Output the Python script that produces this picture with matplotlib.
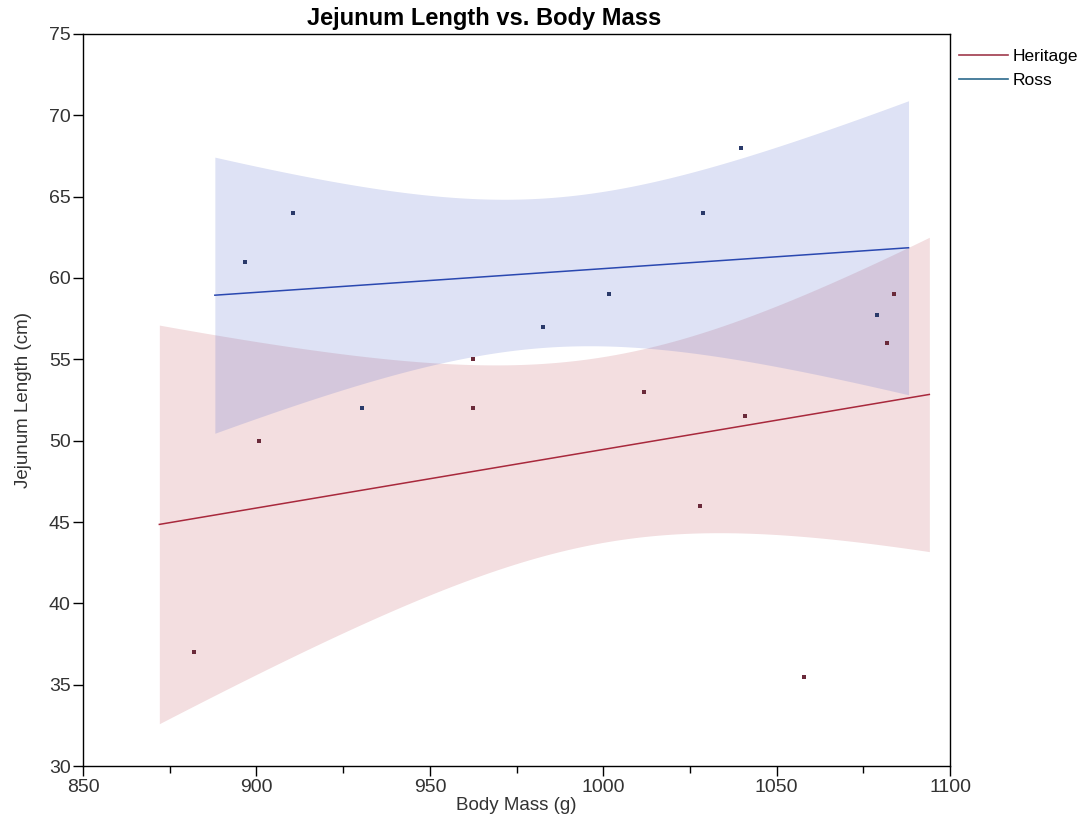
import numpy as np
import matplotlib.pyplot as plt
from matplotlib.ticker import MultipleLocator
from matplotlib.lines import Line2D

plt.rcParams['font.family'] = ['Liberation Sans', 'DejaVu Sans']

# data
heritage_mass = [882.0, 900.6, 962.5, 962.5, 1011.6, 1028.0, 1040.8, 1058.0, 1081.7, 1083.7]
heritage_len = [37.0, 50.0, 55.0, 52.0, 53.0, 46.0, 51.5, 35.5, 56.0, 59.0]
ross_mass = [896.7, 910.6, 930.5, 982.5, 1001.7, 1028.8, 1039.7, 1078.8]
ross_len = [61.0, 64.0, 52.0, 57.0, 59.0, 64.0, 68.0, 57.7]
# x extent of the fitted line / band for each group
heritage_fit_range = [872, 1094]
ross_fit_range = [888, 1088]
# two-sided 95% t quantiles by degrees of freedom
t975 = {6: 2.447, 8: 2.306}

fig = plt.figure(figsize=(10.87, 8.31), dpi=100)
ax = fig.add_axes([0.0764, 0.0782, 0.7977, 0.8809])


def reg_band(ax, x, y, xr, band_rgb, line_color, label):
    # least squares fit + 95% confidence band of the mean
    x = np.asarray(x)
    y = np.asarray(y)
    n = len(x)
    b1, b0 = np.polyfit(x, y, 1)
    resid = y - (b0 + b1 * x)
    s = np.sqrt(np.sum(resid ** 2) / (n - 2))
    sxx = np.sum((x - x.mean()) ** 2)
    xs = np.linspace(xr[0], xr[1], 200)
    yhat = b0 + b1 * xs
    hw = t975[n - 2] * s * np.sqrt(1.0 / n + (xs - x.mean()) ** 2 / sxx)
    ax.fill_between(xs, yhat - hw, yhat + hw, color=band_rgb, alpha=0.2, lw=0, zorder=1)
    ax.plot(xs, yhat, color=line_color, lw=1.1, zorder=3, label=label)


reg_band(ax, heritage_mass, heritage_len, heritage_fit_range, (195/255, 90/255, 100/255), '#a8283c', 'Heritage')
reg_band(ax, ross_mass, ross_len, ross_fit_range, (90/255, 110/255, 205/255), '#2a48b0', 'Ross')

ax.scatter(heritage_mass, heritage_len, s=6, marker='s', color='#6a2a3a', lw=0, zorder=4)
ax.scatter(ross_mass, ross_len, s=6, marker='s', color='#2a3a6a', lw=0, zorder=4)

ax.set_xlim(850, 1100)
ax.set_ylim(30, 75)
ax.xaxis.set_major_locator(MultipleLocator(50))
ax.xaxis.set_minor_locator(MultipleLocator(25))
ax.yaxis.set_major_locator(MultipleLocator(5))
ax.tick_params(axis='both', which='major', length=7, width=1, labelsize=14, colors='black', pad=2)
ax.tick_params(axis='x', which='minor', length=5, width=1)
for lab in ax.get_xticklabels() + ax.get_yticklabels():
    lab.set_color('#333333')
for sp in ax.spines.values():
    sp.set_linewidth(1.0)

ax.set_xlabel('Body Mass (g)', fontsize=13.5, color='#333333', labelpad=1)
ax.set_ylabel('Jejunum Length (cm)', fontsize=13.5, color='#333333', labelpad=12)
fig.text(484 / 1087, 1 - 19 / 831, 'Jejunum Length vs. Body Mass', fontsize=17,
         fontweight='bold', ha='center', va='center')

# legend outside the plot on the right
handles = [Line2D([], [], color='#a03a4c', lw=1.2), Line2D([], [], color='#2c6a8c', lw=1.2)]
fig.legend(handles, ['Heritage', 'Ross'], loc='upper left', bbox_to_anchor=(0.876, 0.95),
           frameon=False, fontsize=12.5, handlelength=2.8, handletextpad=0.3, labelspacing=0.55,
           borderaxespad=0)

fig.savefig('out.png', dpi=100)
